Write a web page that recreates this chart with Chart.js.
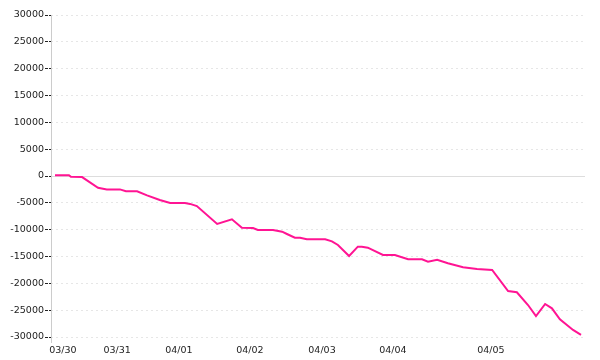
<!DOCTYPE html>
<html>
<head>
<meta charset="utf-8">
<script src="https://cdn.jsdelivr.net/npm/chart.js@4.4.1/dist/chart.umd.min.js"></script>
<style>
    html, body { margin: 0; padding: 0; background: #fff; }
    #wrap { width: 600px; height: 360px; }
</style>
</head>
<body>
<div id="wrap"><canvas id="myChart"></canvas></div>
<script>
// время (условные отсчёты) и значение серии
const times = [0, 3.5, 4, 6.8, 10.8, 13, 16.3, 17.8, 20.6, 23.1, 26.3, 28.9, 32.6, 33.9, 35.6,
    40.7, 44.4, 46.9, 49.7, 50.9, 54.7, 57.0, 58.2, 60.2, 61.5, 63.2, 67.8, 69.5, 71.0, 73.8,
    76.0, 77.0, 78.5, 82.3, 85.3, 88.6, 92.1, 93.6, 95.9, 98.6, 102.4, 105.9, 109.7, 113.7,
    115.9, 118.7, 120.7, 123.0, 124.7, 126.7, 130.0, 132];
const values = [150, 150, -150, -200, -2200, -2500, -2500, -2850, -2850, -3600, -4470, -5030, -5030, -5200, -5600,
    -8940, -8070, -9630, -9690, -10060, -10060, -10380, -10810, -11500, -11500, -11800, -11800, -12170, -12860, -14900,
    -13170, -13170, -13360, -14720, -14720, -15520, -15520, -15970, -15600, -16270, -17010, -17330, -17510, -21430,
    -21670, -24040, -26090, -23850, -24650, -26700, -28690, -29620];

// подписи дней и их положение на оси времени
const dayLabels = ['03/30', '03/31', '04/01', '04/02', '04/03', '04/04', '04/05'];
const dayTicks = [2.0, 15.6, 31.1, 48.9, 67.0, 84.8, 109.4];

const points = times.map((t, i) => ({x: t, y: values[i]}));

// Нулевая линия и ось Y сплошные (остальная сетка пунктиром)
const solidLines = {
    id: 'solidLines',
    beforeDatasetsDraw(chart) {
        const area = chart.chartArea;
        const ctx = chart.ctx;
        const y = Math.round(chart.scales.y.getPixelForValue(0));
        ctx.save();
        ctx.fillStyle = '#dddddd';
        ctx.fillRect(Math.round(area.left), y, Math.round(area.right - area.left), 1);
        ctx.restore();
    },
    afterDraw(chart) {
        const area = chart.chartArea;
        const ctx = chart.ctx;
        ctx.save();
        ctx.fillStyle = '#cccccc';
        ctx.fillRect(Math.round(area.left), Math.round(area.top), 1, Math.round(area.bottom - area.top) + 6);
        ctx.restore();
    }
};

new Chart(document.getElementById('myChart'), {
    type: 'line',
    data: {
        datasets: [
            {
                data: points,
                borderColor: '#ff1493',
                borderWidth: 2,
                pointRadius: 0,
                tension: 0,
                fill: false
            }
        ]
    },
    options: {
        responsive: true,
        maintainAspectRatio: false,
        animation: false,
        layout: {
            padding: {top: 15, right: 15, bottom: 4, left: 0}
        },
        plugins: {
            legend: {display: false},
            tooltip: {enabled: false}
        },
        scales: {
            x: {
                type: 'linear',
                min: -1,
                max: 133,
                grid: {display: false, drawTicks: false},
                border: {display: false},
                afterBuildTicks: (scale) => {
                    scale.ticks = dayTicks.map(v => ({value: v}));
                },
                afterFit: (scale) => {
                    scale.height = 19;
                },
                ticks: {
                    padding: 8,
                    maxRotation: 0,
                    autoSkip: false,
                    color: '#222',
                    font: {family: 'DejaVu Sans', size: 9.5},
                    callback: (value, index) => dayLabels[index]
                }
            },
            y: {
                min: -30000,
                max: 30000,
                afterFit: (scale) => {
                    scale.width = 51;
                },
                grid: {
                    color: (ctx) => ctx.tick && ctx.tick.value === 0 ? 'rgba(0,0,0,0)' : '#e6e6e6',
                    tickColor: '#222',
                    tickLength: 6,
                    tickBorderDash: [3, 1]
                },
                border: {
                    display: false,
                    dash: [2, 3]
                },
                ticks: {
                    stepSize: 5000,
                    padding: 1,
                    color: '#222',
                    font: {family: 'DejaVu Sans', size: 9.5},
                    callback: (value) => String(value)
                }
            }
        }
    },
    plugins: [solidLines]
});
</script>
</body>
</html>
